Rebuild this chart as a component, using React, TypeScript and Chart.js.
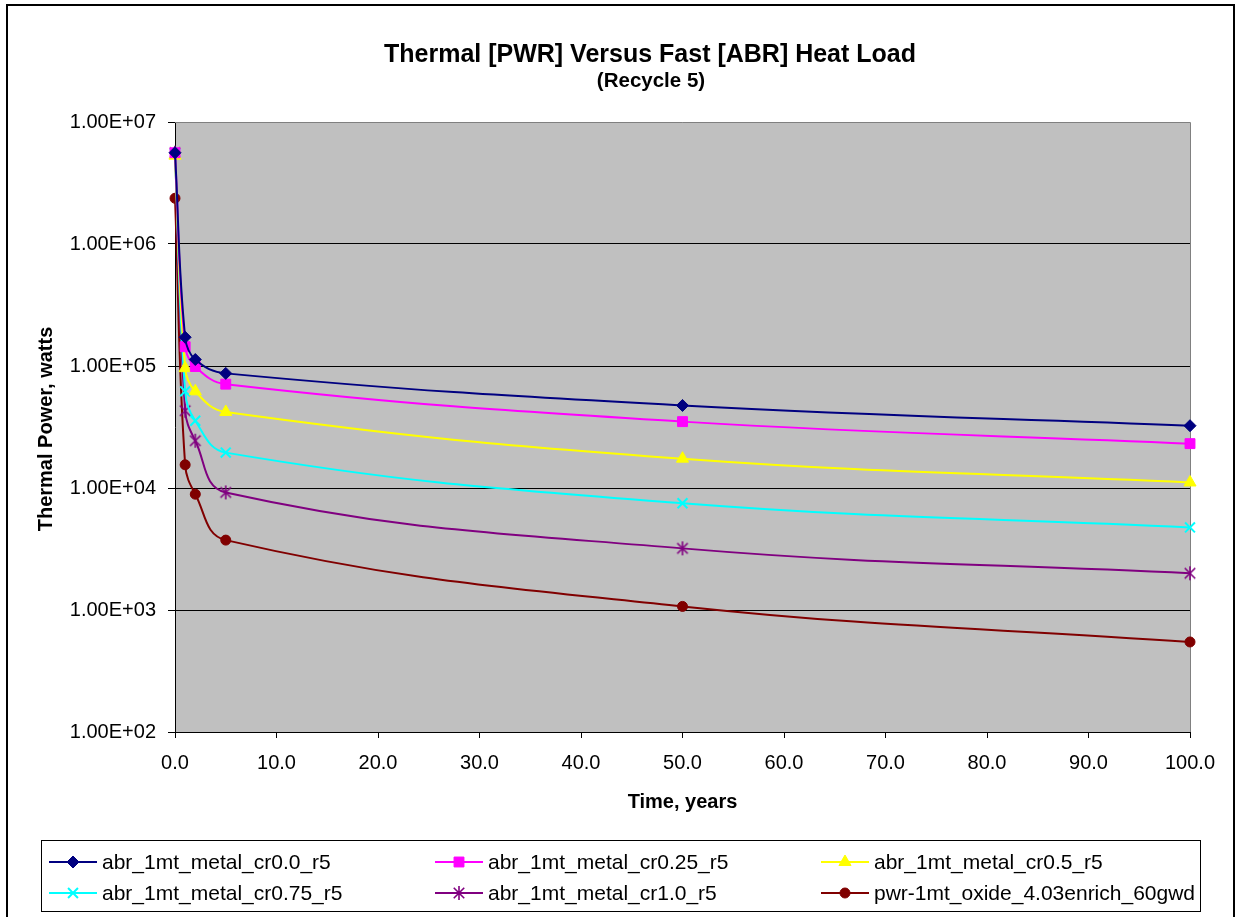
import React, { useEffect, useRef } from "react";
import { Chart, registerables } from "chart.js";
import { drawPoint } from "chart.js/helpers";

Chart.register(...registerables);

// ---------- data ----------
const years = [0, 1, 2, 5, 50, 100];

const cr00 = [5.6e6, 1.72e5, 1.13e5, 8.7e4, 4.75e4, 3.24e4];
const cr025 = [5.6e6, 1.44e5, 9.9e4, 7.1e4, 3.5e4, 2.31e4];
const cr05 = [5.3e6, 9.6e4, 6.2e4, 4.2e4, 1.74e4, 1.11e4];
const cr075 = [5.5e6, 6.2e4, 3.56e4, 1.95e4, 7.5e3, 4.75e3];
const cr10 = [5.6e6, 4.3e4, 2.44e4, 9.2e3, 3.2e3, 2.0e3];
const pwr = [2.37e6, 1.55e4, 8.9e3, 3.74e3, 1.07e3, 5.47e2];

const seriesNames = [
  "abr_1mt_metal_cr0.0_r5",
  "abr_1mt_metal_cr0.25_r5",
  "abr_1mt_metal_cr0.5_r5",
  "abr_1mt_metal_cr0.75_r5",
  "abr_1mt_metal_cr1.0_r5",
  "pwr-1mt_oxide_4.03enrich_60gwd",
];
const seriesValues = [cr00, cr025, cr05, cr075, cr10, pwr];
const seriesColors = ["#000080", "#FF00FF", "#FFFF00", "#00FFFF", "#800080", "#800000"];

const xTickValues = [0, 10, 20, 30, 40, 50, 60, 70, 80, 90, 100];
const xTickLabels = ["0.0", "10.0", "20.0", "30.0", "40.0", "50.0", "60.0", "70.0", "80.0", "90.0", "100.0"];
const yTickValues = [1e2, 1e3, 1e4, 1e5, 1e6, 1e7];
const yTickLabels = ["1.00E+02", "1.00E+03", "1.00E+04", "1.00E+05", "1.00E+06", "1.00E+07"];

const titleText = "Thermal [PWR] Versus Fast [ABR] Heat Load";
const subtitleText = "(Recycle 5)";
const xAxisTitle = "Time, years";
const yAxisTitle = "Thermal Power, watts";

const FONT = "'Liberation Sans', Arial, Helvetica, sans-serif";

function makeStar(color: string, r: number): HTMLCanvasElement {
  const c = document.createElement("canvas");
  const s = Math.ceil(2 * r + 4);
  c.width = s;
  c.height = s;
  const g = c.getContext("2d")!;
  const cx = s / 2;
  const cy = s / 2;
  g.strokeStyle = color;
  g.lineWidth = 1.6;
  g.beginPath();
  g.moveTo(cx, cy - r);
  g.lineTo(cx, cy + r);
  const d = r * 0.75;
  g.moveTo(cx - d, cy - d);
  g.lineTo(cx + d, cy + d);
  g.moveTo(cx + d, cy - d);
  g.lineTo(cx - d, cy + d);
  g.stroke();
  return c;
}

export default function App() {
  const ref = useRef<HTMLCanvasElement | null>(null);

  useEffect(() => {
    document.body.style.margin = "0";
    const canvas = ref.current!;
    const star = makeStar("#800080", 7);
    const pointStyles: any[] = ["rectRot", "rect", "triangle", "crossRot", star, "circle"];
    const pointRadii = [6, 7, 7, 7, 7, 5];
    const pointBorders = [1, 1, 1, 2, 1, 1];

    const datasets = seriesNames.map((name, i) => ({
      label: name,
      data: years.map((x, j) => ({ x, y: seriesValues[i][j] })),
      borderColor: seriesColors[i],
      backgroundColor: seriesColors[i],
      pointBackgroundColor: seriesColors[i],
      pointBorderColor: seriesColors[i],
      pointStyle: pointStyles[i],
      pointRadius: pointRadii[i],
      pointBorderWidth: pointBorders[i],
      borderWidth: 2,
      tension: 0.4,
      fill: false,
      clip: false as any,
    }));

    const decor = {
      id: "decor",
      beforeDraw(chart: any) {
        const { ctx, chartArea: a } = chart;
        ctx.save();
        ctx.fillStyle = "#ffffff";
        ctx.fillRect(0, 0, chart.width, chart.height);
        ctx.fillStyle = "#C0C0C0";
        ctx.fillRect(a.left, a.top, a.right - a.left, a.bottom - a.top);
        ctx.restore();
      },
      beforeDatasetsDraw(chart: any) {
        const { ctx, chartArea: a } = chart;
        ctx.save();
        ctx.strokeStyle = "#808080";
        ctx.lineWidth = 1;
        ctx.beginPath();
        ctx.moveTo(a.left, a.top + 0.5);
        ctx.lineTo(a.right + 0.5, a.top + 0.5);
        ctx.lineTo(a.right + 0.5, a.bottom);
        ctx.stroke();
        ctx.restore();
      },
      afterDraw(chart: any) {
        const { ctx, chartArea: a } = chart;
        ctx.save();
        ctx.fillStyle = "#000";
        ctx.textAlign = "center";
        ctx.textBaseline = "alphabetic";
        ctx.font = `bold 25px ${FONT}`;
        ctx.fillText(titleText, 650, 62);
        ctx.font = `bold 20.5px ${FONT}`;
        ctx.fillText(subtitleText, 651, 87);
        // x axis title
        ctx.font = `bold 20px ${FONT}`;
        ctx.fillText(xAxisTitle, (a.left + a.right) / 2, 808);
        // y axis title
        ctx.save();
        ctx.translate(51.5, 429);
        ctx.rotate(-Math.PI / 2);
        ctx.fillText(yAxisTitle, 0, 0);
        ctx.restore();

        // legend
        ctx.strokeStyle = "#000";
        ctx.lineWidth = 1;
        ctx.strokeRect(41.5, 840.5, 1159, 71);
        ctx.font = `21px ${FONT}`;
        ctx.textAlign = "left";
        ctx.textBaseline = "middle";
        chart.data.datasets.forEach((ds: any, i: number) => {
          const col = i % 3;
          const row = Math.floor(i / 3);
          const x0 = 49 + col * 386;
          const y0 = 862 + row * 31;
          ctx.strokeStyle = ds.borderColor;
          ctx.lineWidth = 2;
          ctx.beginPath();
          ctx.moveTo(x0, y0);
          ctx.lineTo(x0 + 48, y0);
          ctx.stroke();
          ctx.fillStyle = ds.pointBackgroundColor;
          ctx.strokeStyle = ds.pointBorderColor;
          ctx.lineWidth = ds.pointBorderWidth;
          drawPoint(ctx, { pointStyle: ds.pointStyle, radius: ds.pointRadius, rotation: 0, borderWidth: ds.pointBorderWidth }, x0 + 24, y0);
          ctx.fillStyle = "#000";
          ctx.fillText(ds.label, x0 + 53, y0 + 1);
        });

        // outer frame
        ctx.strokeStyle = "#000";
        ctx.lineWidth = 2;
        ctx.beginPath();
        ctx.moveTo(7, 930);
        ctx.lineTo(7, 5);
        ctx.lineTo(1234, 5);
        ctx.lineTo(1234, 930);
        ctx.stroke();
        ctx.restore();
      },
    };

    const chart = new Chart(canvas, {
      type: "line",
      data: { datasets },
      options: {
        animation: false,
        responsive: false,
        devicePixelRatio: 1,
        layout: { padding: { left: 0, right: 46, top: 122, bottom: 0 } },
        plugins: {
          legend: { display: false },
          title: { display: false },
          tooltip: { enabled: false },
        },
        scales: {
          x: {
            type: "linear",
            min: 0,
            max: 100,
            afterBuildTicks: (s: any) => {
              s.ticks = xTickValues.map((v) => ({ value: v }));
            },
            afterFit: (s: any) => {
              s.height = 185;
              s.paddingLeft = 0;
              s.paddingRight = 0;
            },
            ticks: {
              autoSkip: false,
              maxRotation: 0,
              padding: 13,
              color: "#000",
              font: { family: FONT, size: 20 },
              callback: (v: any) => xTickLabels[xTickValues.indexOf(Number(v))],
            },
            grid: {
              display: true,
              drawOnChartArea: false,
              drawTicks: true,
              tickLength: 6,
              color: "#000",
              tickColor: "#000",
            },
            border: { display: true, color: "#000", width: 1 },
          },
          y: {
            type: "logarithmic",
            min: 100,
            max: 1e7,
            afterBuildTicks: (s: any) => {
              s.ticks = yTickValues.map((v) => ({ value: v }));
            },
            afterFit: (s: any) => {
              s.width = 175;
              s.paddingTop = 0;
              s.paddingBottom = 0;
            },
            ticks: {
              autoSkip: false,
              padding: 12,
              color: "#000",
              font: { family: FONT, size: 20 },
              callback: (v: any) => yTickLabels[yTickValues.indexOf(Number(v))],
            },
            grid: {
              display: true,
              drawTicks: true,
              tickLength: 7,
              color: (c: any) => (c.tick && c.tick.value === 1e7 ? "rgba(0,0,0,0)" : "#000"),
              tickColor: "#000",
            },
            border: { display: true, color: "#000", width: 1 },
          },
        },
      } as any,
      plugins: [decor],
    });
    return () => chart.destroy();
  }, []);

  return (
    <div style={{ width: 1236, height: 917 }}>
      <canvas ref={ref} width={1236} height={917} style={{ display: "block", width: 1236, height: 917 }} />
    </div>
  );
}
